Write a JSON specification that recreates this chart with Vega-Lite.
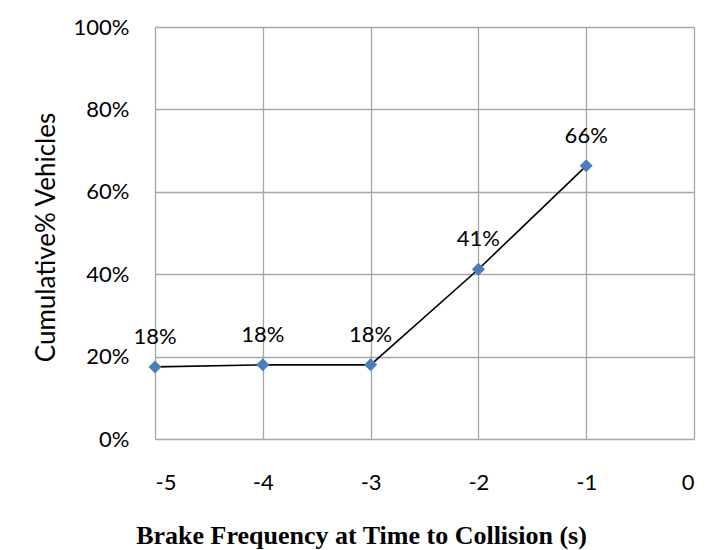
{
  "$schema": "https://vega.github.io/schema/vega-lite/v6.json",
  "autosize": {"type": "none"},
  "width": 539,
  "height": 412,
  "padding": {"left": 155, "top": 27, "right": 25, "bottom": 111},
  "background": "white",
  "config": {
    "view": {"stroke": null},
    "font": "Lato",
    "axis": {"gridColor": "#a6a6a6", "gridWidth": 1.3, "domainColor": "#a6a6a6", "domainWidth": 1.3, "ticks": false, "labelFont": "Lato", "labelFontSize": 22, "labelColor": "#000000", "titleColor": "#000000"}
  },
  "data": {
    "values": [
      {"t": -5, "pct": 17.5, "label": "18%"},
      {"t": -4, "pct": 18.0, "label": "18%"},
      {"t": -3, "pct": 18.0, "label": "18%"},
      {"t": -2, "pct": 41.2, "label": "41%"},
      {"t": -1, "pct": 66.3, "label": "66%"}
    ]
  },
  "encoding": {
    "x": {
      "field": "t", "type": "quantitative",
      "scale": {"domain": [-5, 0], "nice": false, "zero": false},
      "axis": {"values": [-5, -4, -3, -2, -1, 0], "labelExpr": "'' + datum.value", "labelPadding": 33, "title": "Brake Frequency at Time to Collision (s)", "titleFont": "Liberation Serif", "titleFontSize": 26, "titleFontWeight": "bold", "titleX": 206, "titleY": 104, "titleBaseline": "alphabetic", "titleAnchor": null, "titleAlign": "center", "domain": false}
    },
    "y": {
      "field": "pct", "type": "quantitative",
      "scale": {"domain": [0, 100], "nice": false},
      "axis": {"values": [0, 20, 40, 60, 80, 100], "labelExpr": "datum.value + '%'", "labelPadding": 26, "title": "Cumulative% Vehicles", "titleFont": "Lato", "titleFontSize": 26, "titleFontWeight": "normal", "titlePadding": 14, "titleY": 210, "domain": false}
    }
  },
  "layer": [
    {"mark": {"type": "line", "color": "#000000", "strokeWidth": 1.6}},
    {"mark": {"type": "point", "shape": "diamond", "filled": true, "color": "#4a7ebb", "opacity": 1, "size": 170}},
    {"mark": {"type": "text", "dy": -30, "fontSize": 22, "font": "Lato", "color": "#000000"}, "encoding": {"text": {"field": "label"}}}
  ]
}
